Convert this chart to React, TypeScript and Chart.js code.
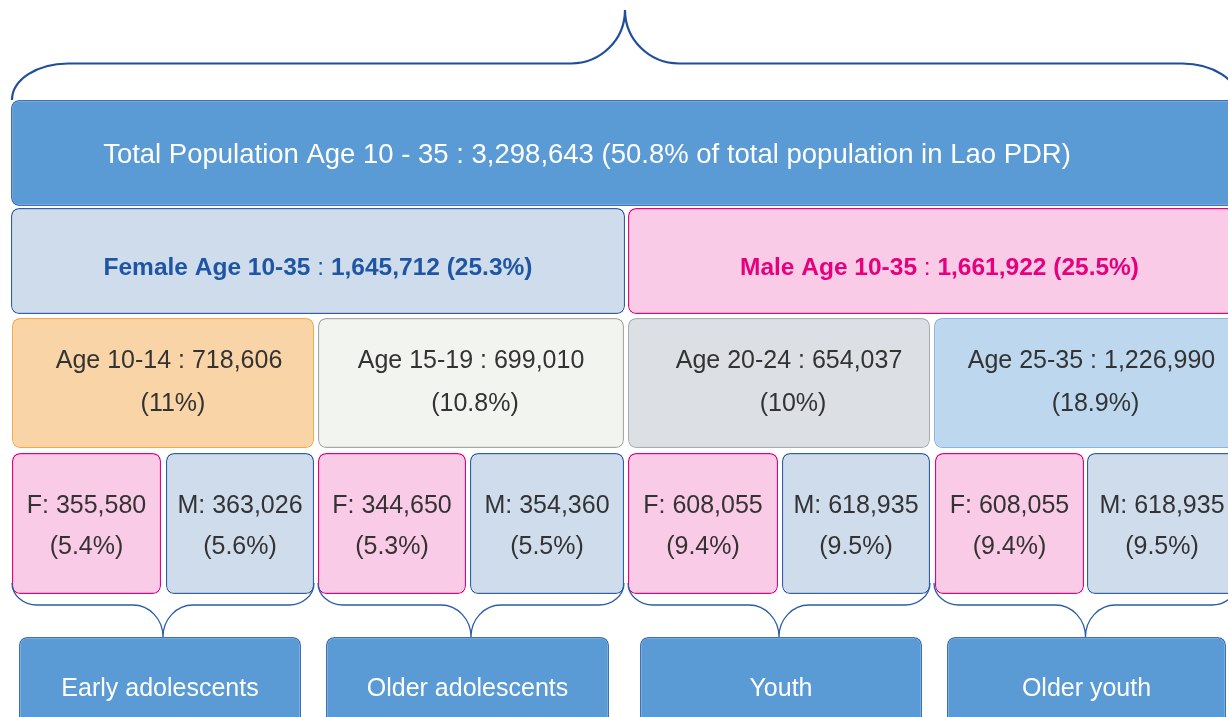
import React, { useEffect, useRef } from "react";
import { Chart, registerables } from "chart.js";

Chart.register(...registerables);

// ---------------- data ----------------
const totalLabel = "Total Population Age 10 - 35";
const totalPopulation = 3298643;
const totalPct = "50.8";
const totalNote = "of total population in Lao PDR";

const sexLabels = ["Female", "Male"];
const sexAgeRange = "10-35";
const sexPopulation = [1645712, 1661922];
const sexPct = ["25.3", "25.5"];

const ageGroups = ["10-14", "15-19", "20-24", "25-35"];
const agePopulation = [718606, 699010, 654037, 1226990];
const agePct = ["11", "10.8", "10", "18.9"];

const femalePopulation = [355580, 344650, 608055, 608055];
const femalePct = ["5.4", "5.3", "9.4", "9.4"];
const malePopulation = [363026, 354360, 618935, 618935];
const malePct = ["5.6", "5.5", "9.5", "9.5"];

const stageLabels = ["Early adolescents", "Older adolescents", "Youth", "Older youth"];

// ---------------- layout (diagram units = pixels) ----------------
const W = 1228;
const H = 717;
const rowTotal = [100, 206];
const rowSex = [208, 314];
const rowAge = [318, 448];
const rowSplit = [453, 594];
const rowStage = [637, 745];
const totalSpan = [11, 1239];
const sexSpans = [[11, 625], [628, 1251]];
const ageSpans = [[12, 314], [318, 624], [628, 930], [934, 1237]];
const splitSpans = [
  [12, 161], [166, 314], [318, 466], [470, 624],
  [628, 778], [782, 930], [935, 1084], [1087, 1237],
];
const stageSpans = [[19, 301], [326, 609], [640, 922], [947, 1226]];
const topBrace = { x0: 12, x1: 1238, tip: 625, yEnd: 100, yMid: 63.5, yTip: 10, r: 56, r2: 54 };
const lowBrace = { yEnd: 583, yMid: 605, yTip: 637, r: 25, r2: 30 };

// ---------------- styles ----------------
const FONT = '"Liberation Sans", Arial, sans-serif';
const DARK = "#333333";
const BLUE_FILL = "#5b9bd5";
const BLUE_EDGE = "#3c70b8";
const F_FILL = "#f9cbe6";
const F_EDGE = "#e8007f";
const M_FILL = "#cfdcec";
const M_EDGE = "#2e5fa8";
const AGE_FILL = ["#f8d4a6", "#f2f5ef", "#dcdfe4", "#bdd7ee"];
const AGE_EDGE = ["#f5a84a", "#a8a8a8", "#a9adb2", "#8ab4de"];
const BRACE = "#1f4f9c";
const SEX_TEXT = ["#1f56a3", "#e6007e"];

const fmt = (n: number) => n.toLocaleString("en-US");

type Run = { t: string; font: string; color: string };
type Line = { runs: Run[]; dx: number; dy: number };

const reg = (size: number) => `${size}px ${FONT}`;
const bold = (size: number) => `bold ${size}px ${FONT}`;

// texts per dataset, per element
const totalTexts: Line[][] = [[
  {
    runs: [{ t: `${totalLabel} : ${fmt(totalPopulation)} (${totalPct}% ${totalNote})`, font: reg(27.5), color: "#ffffff" }],
    dx: -38, dy: 9.5,
  },
]];
const sexTexts: Line[][] = sexLabels.map((s, i) => [
  {
    runs: [
      { t: `${s} Age ${sexAgeRange}`, font: bold(24.5), color: SEX_TEXT[i] },
      { t: " : ", font: reg(24.5), color: SEX_TEXT[i] },
      { t: `${fmt(sexPopulation[i])} (${sexPct[i]}%)`, font: bold(24.5), color: SEX_TEXT[i] },
    ],
    dx: 0, dy: 14,
  },
]);
const ageDx = [6, 0, 10, 6];
const ageTexts: Line[][] = ageGroups.map((g, i) => [
  { runs: [{ t: `Age ${g} : ${fmt(agePopulation[i])}`, font: reg(25), color: DARK }], dx: ageDx[i], dy: -14.7 },
  { runs: [{ t: `(${agePct[i]}%)`, font: reg(25), color: DARK }], dx: ageDx[i] + 4, dy: 28 },
]);
const splitTexts: Line[][] = [];
ageGroups.forEach((_, i) => {
  splitTexts.push([
    { runs: [{ t: `F: ${fmt(femalePopulation[i])}`, font: reg(25), color: DARK }], dx: 0, dy: -10.8 },
    { runs: [{ t: `(${femalePct[i]}%)`, font: reg(25), color: DARK }], dx: 0, dy: 30 },
  ]);
  splitTexts.push([
    { runs: [{ t: `M: ${fmt(malePopulation[i])}`, font: reg(25), color: DARK }], dx: 0, dy: -10.8 },
    { runs: [{ t: `(${malePct[i]}%)`, font: reg(25), color: DARK }], dx: 0, dy: 30 },
  ]);
});
const stageTexts: Line[][] = stageLabels.map((s) => [
  { runs: [{ t: s, font: reg(25), color: "#ffffff" }], dx: 0, dy: 4.5 },
]);
const allTexts = [totalTexts, sexTexts, ageTexts, splitTexts, stageTexts];

function rowDataset(spans: number[][], row: number[], fill: string[], edge: string[], width = 1.4) {
  return {
    data: spans.map((s) => ({ x: s, y: (row[0] + row[1]) / 2 })),
    barThickness: row[1] - row[0],
    grouped: false,
    backgroundColor: fill,
    borderColor: edge,
    borderWidth: width,
    borderRadius: 8,
    borderSkipped: false,
    inflateAmount: 0,
  };
}

function drawRuns(ctx: CanvasRenderingContext2D, runs: Run[], cx: number, baseline: number) {
  let total = 0;
  const widths = runs.map((r) => {
    ctx.font = r.font;
    const w = ctx.measureText(r.t).width;
    total += w;
    return w;
  });
  let x = cx - total / 2;
  runs.forEach((r, i) => {
    ctx.font = r.font;
    ctx.fillStyle = r.color;
    ctx.fillText(r.t, x, baseline);
    x += widths[i];
  });
}

function braceSide(ctx: CanvasRenderingContext2D, xs: number, dir: number, tip: number, b: { yEnd: number; yMid: number; yTip: number; r: number; r2: number }, sx: (v: number) => number, sy: (v: number) => number) {
  const k = 0.5523;
  ctx.moveTo(sx(xs), sy(b.yEnd));
  ctx.bezierCurveTo(
    sx(xs), sy(b.yEnd + k * (b.yMid - b.yEnd)),
    sx(xs + dir * (b.r - k * b.r)), sy(b.yMid),
    sx(xs + dir * b.r), sy(b.yMid)
  );
  ctx.lineTo(sx(tip - dir * b.r2), sy(b.yMid));
  ctx.bezierCurveTo(
    sx(tip - dir * b.r2 + dir * k * b.r2), sy(b.yMid),
    sx(tip), sy(b.yTip + k * (b.yMid - b.yTip)),
    sx(tip), sy(b.yTip)
  );
}

const diagramPlugin = {
  id: "diagram",
  afterDatasetsDraw(chart: any) {
    const ctx: CanvasRenderingContext2D = chart.ctx;
    const xs = chart.scales.x;
    const ys = chart.scales.y;
    const sx = (v: number) => xs.getPixelForValue(v);
    const sy = (v: number) => ys.getPixelForValue(v);
    ctx.save();
    // braces
    ctx.strokeStyle = BRACE;
    ctx.lineWidth = 2.2;
    ctx.beginPath();
    braceSide(ctx, topBrace.x0, 1, topBrace.tip, topBrace, sx, sy);
    braceSide(ctx, topBrace.x1, -1, topBrace.tip, topBrace, sx, sy);
    ctx.stroke();
    ctx.strokeStyle = "#2b5ca6";
    ctx.lineWidth = 1.3;
    ctx.beginPath();
    ageSpans.forEach((s) => {
      const tip = (s[0] + s[1]) / 2;
      braceSide(ctx, s[0], 1, tip, lowBrace, sx, sy);
      braceSide(ctx, s[1], -1, tip, lowBrace, sx, sy);
    });
    ctx.stroke();
    // texts
    ctx.textAlign = "left";
    ctx.textBaseline = "alphabetic";
    chart.data.datasets.forEach((_: any, di: number) => {
      const meta = chart.getDatasetMeta(di);
      meta.data.forEach((el: any, i: number) => {
        const p = el.getProps(["x", "y", "base"], true);
        const cx = (p.x + p.base) / 2;
        const cy = p.y;
        const lines = allTexts[di][i] || [];
        lines.forEach((ln) => drawRuns(ctx, ln.runs, cx + ln.dx, cy + ln.dy));
      });
    });
    ctx.restore();
  },
};

export default function App() {
  const ref = useRef<HTMLCanvasElement | null>(null);
  useEffect(() => {
    if (!ref.current) return;
    const splitFill: string[] = [];
    const splitEdge: string[] = [];
    ageGroups.forEach(() => {
      splitFill.push(F_FILL, M_FILL);
      splitEdge.push(F_EDGE, M_EDGE);
    });
    const chart = new Chart(ref.current, {
      type: "bar",
      data: {
        datasets: [
          rowDataset([totalSpan], rowTotal, [BLUE_FILL], [BLUE_EDGE], 1.6),
          rowDataset(sexSpans, rowSex, [M_FILL, F_FILL], [M_EDGE, F_EDGE]),
          rowDataset(ageSpans, rowAge, AGE_FILL, AGE_EDGE),
          rowDataset(splitSpans, rowSplit, splitFill, splitEdge),
          rowDataset(stageSpans, rowStage, ageGroups.map(() => BLUE_FILL), ageGroups.map(() => BLUE_EDGE)),
        ] as any,
      },
      options: {
        indexAxis: "y",
        animation: false,
        responsive: true,
        maintainAspectRatio: false,
        layout: { padding: 0 },
        plugins: { legend: { display: false }, tooltip: { enabled: false } },
        scales: {
          x: { type: "linear", min: 0, max: W, offset: false, grace: 0, display: false },
          y: { type: "linear", min: 0, max: H, reverse: true, offset: false, grace: 0, display: false },
        },
      } as any,
      plugins: [diagramPlugin],
    });
    return () => chart.destroy();
  }, []);
  return (
    <div style={{ position: "fixed", left: 0, top: 0, width: W, height: H, background: "#ffffff" }}>
      <canvas ref={ref} style={{ display: "block" }} />
    </div>
  );
}
